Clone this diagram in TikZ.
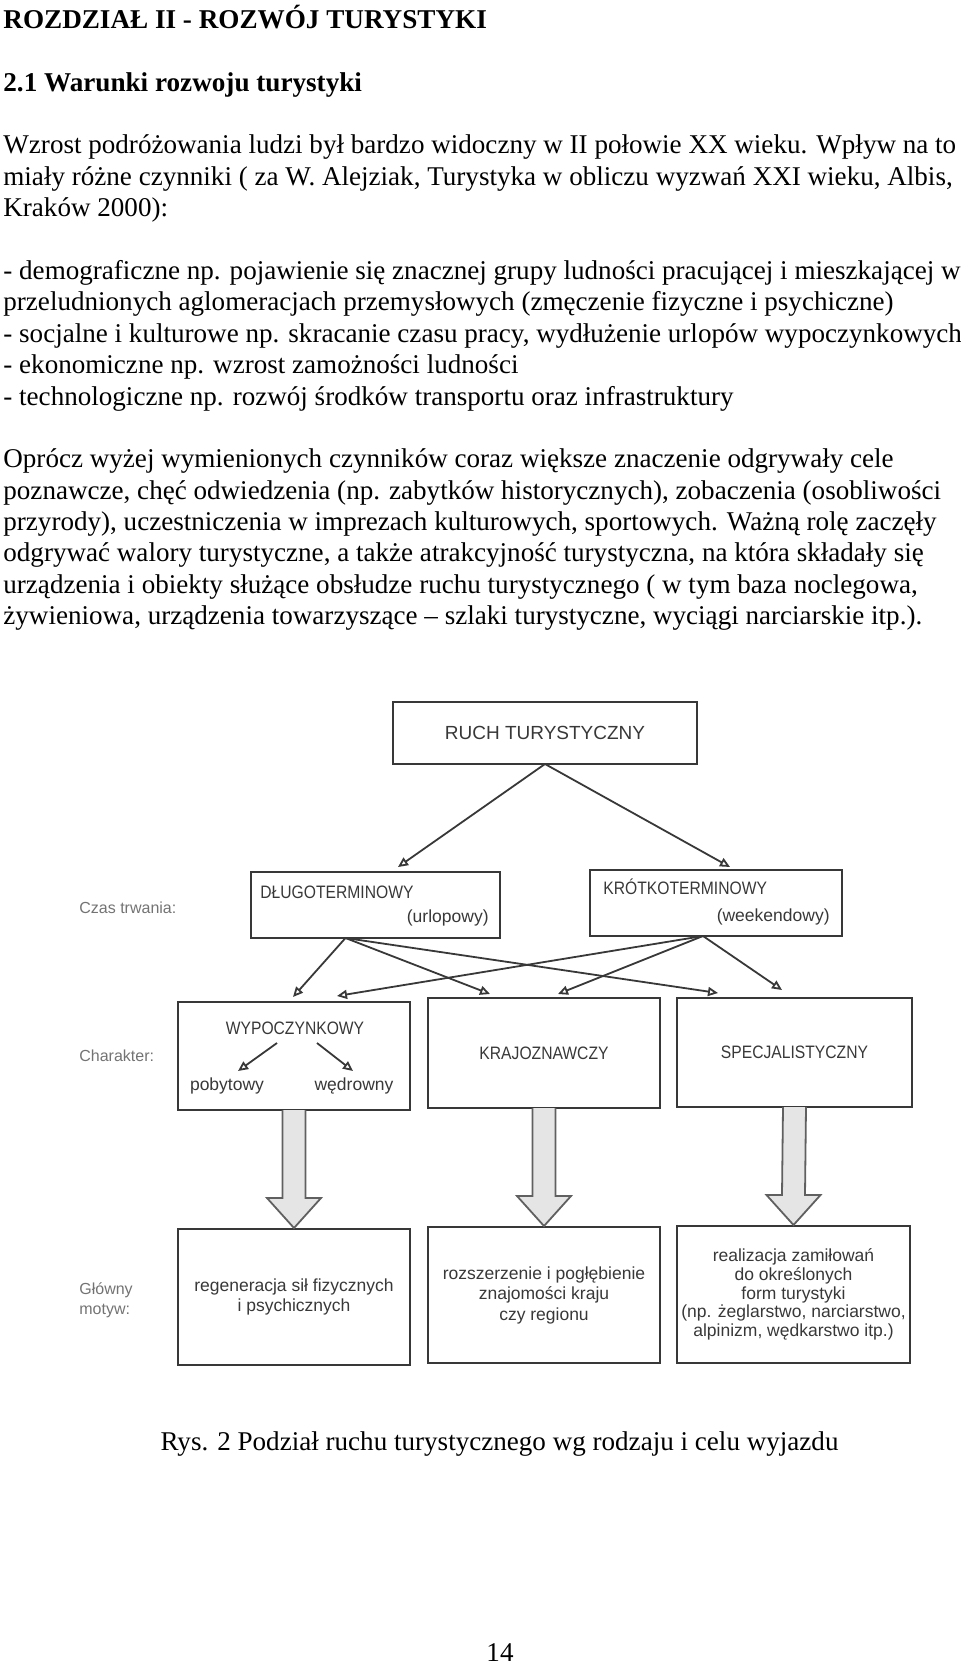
\documentclass[tikz,border=0pt]{standalone}
\usepackage{fontspec}
\setmainfont{Liberation Serif}
\newfontfamily\dsans{Liberation Sans}
\newfontfamily\dnarrow[FakeStretch=0.87]{Liberation Sans}
\usetikzlibrary{calc,arrows.meta}
\definecolor{ink}{gray}{0.22}
\definecolor{faint}{gray}{0.45}
\definecolor{shaftfill}{gray}{0.9}
\begin{document}
\begin{tikzpicture}[x=0.5pt,y=-0.5pt,
  body/.style={anchor=base west,inner sep=0pt,font=\fontsize{13.54}{15}\selectfont},
  headline/.style={anchor=base west,inner sep=0pt,font=\fontsize{13.58}{15}\selectfont\bfseries},
  box/.style={draw=ink,line width=1.2pt,inner sep=0pt,outer sep=0pt,text=ink},
  dtext/.style={inner sep=0pt,text=ink,font=\dnarrow\fontsize{9}{10}\selectfont},
  dsmall/.style={inner sep=0pt,text=ink,font=\dsans\fontsize{8.75}{9.75}\selectfont},
  lab/.style={inner sep=0pt,text=faint,font=\dsans\fontsize{8}{10}\selectfont},
  conn/.style={draw=ink,line width=0.9pt,-{Triangle[open,length=5pt,width=4.5pt]}},
  barrow/.style={draw=ink!80,fill=shaftfill,line width=0.9pt,line join=miter}
]
\useasboundingbox (0,0) rectangle (960,1664);

% ---------- text ----------
\node[headline] (title) at (3,28.5) {ROZDZIAŁ II - ROZWÓJ TURYSTYKI};
\node[headline] (sec) at (3,91.3) {2.1 Warunki rozwoju turystyki};
\node[body] (p1) at (3,154) {Wzrost podróżowania ludzi był bardzo widoczny w II połowie XX wieku. Wpływ na to};
\node[body] (p2) at (3,185.4) {miały różne czynniki ( za W. Alejziak, Turystyka w obliczu wyzwań XXI wieku, Albis,};
\node[body] (p3) at (3,216.7) {Kraków 2000):};
\node[body] (l1) at (3,279.5) {- demograficzne np. pojawienie się znacznej grupy ludności pracującej i mieszkającej w};
\node[body] (l2) at (3,310.9) {przeludnionych aglomeracjach przemysłowych (zmęczenie fizyczne i psychiczne)};
\node[body] (l3) at (3,342.2) {- socjalne i kulturowe np. skracanie czasu pracy, wydłużenie urlopów wypoczynkowych};
\node[body] (l4) at (3,373.6) {- ekonomiczne np. wzrost zamożności ludności};
\node[body] (l5) at (3,405) {- technologiczne np. rozwój środków transportu oraz infrastruktury};
\node[body] (q1) at (3,467.7) {Oprócz wyżej wymienionych czynników coraz większe znaczenie odgrywały cele};
\node[body] (q2) at (3,499.1) {poznawcze, chęć odwiedzenia (np. zabytków historycznych), zobaczenia (osobliwości};
\node[body] (q3) at (3,530.4) {przyrody), uczestniczenia w imprezach kulturowych, sportowych. Ważną rolę zaczęły};
\node[body] (q4) at (3,561.8) {odgrywać walory turystyczne, a także atrakcyjność turystyczna, na która składały się};
\node[body] (q5) at (3,593.2) {urządzenia i obiekty służące obsłudze ruchu turystycznego ( w tym baza noclegowa,};
\node[body] (q6) at (3,624.6) {żywieniowa, urządzenia towarzyszące – szlaki turystyczne, wyciągi narciarskie itp.).};

\node[body,anchor=base] (cap) at (499.5,1450) {Rys. 2 Podział ruchu turystycznego wg rodzaju i celu wyjazdu};
\node[body,anchor=base] (pg) at (500,1661) {14};

% ---------- diagram ----------
\node[box,minimum width=152pt,minimum height=31pt,font=\dsans\fontsize{9.5}{11}\selectfont] (ruch) at (545,733) {RUCH TURYSTYCZNY};

\node[box,minimum width=124.5pt,minimum height=33pt] (dl) at (375.5,905) {};
\node[dtext,anchor=base west] (dlt) at (260,898.5) {DŁUGOTERMINOWY};
\node[dsmall,anchor=base east] (dlu) at (489,922) {(urlopowy)};

\node[box,minimum width=126pt,minimum height=33pt] (kr) at (716,903) {};
\node[dtext,anchor=base west] (krt) at (603,894.5) {KRÓTKOTERMINOWY};
\node[dsmall,anchor=base east] (krw) at (830,921) {(weekendowy)};

\node[box,minimum width=116pt,minimum height=54pt] (wy) at (294,1056) {};
\node[dtext] (wyt) at (295,1028) {WYPOCZYNKOWY};
\node[dsmall,anchor=base] (pob) at (227,1090) {pobytowy};
\node[dsmall,anchor=base] (wed) at (354,1090) {wędrowny};

\node[box,minimum width=116pt,minimum height=55pt,font=\dnarrow\fontsize{9}{10}\selectfont] (kj) at (544,1053) {KRAJOZNAWCZY};
\node[box,minimum width=117.5pt,minimum height=54.5pt,font=\dnarrow\fontsize{9}{10}\selectfont] (sp) at (794.5,1052.5) {SPECJALISTYCZNY};

\node[box,minimum width=116pt,minimum height=68pt,align=center,font=\dsans\fontsize{8.75}{9.75}\selectfont] (rg) at (294,1297) {regeneracja sił fizycznych\\i psychicznych};
\node[box,minimum width=116pt,minimum height=68pt,align=center,font=\dsans\fontsize{8.75}{10.25}\selectfont] (rz) at (544,1295) {rozszerzenie i pogłębienie\\znajomości kraju\\czy regionu};
\node[box,minimum width=116.5pt,minimum height=68.5pt,align=center,font=\dsans\fontsize{8.75}{9.3}\selectfont] (rl) at (793.5,1294.5) {realizacja zamiłowań\\do określonych\\form turystyki\\(np. żeglarstwo, narciarstwo,\\alpinizm, wędkarstwo itp.)};

\node[lab,anchor=west] (czas) at (79,908) {Czas trwania:};
\node[lab,anchor=west] (char) at (79,1056) {Charakter:};
\node[lab,anchor=west,align=left] (mot) at (79,1300) {Główny\\motyw:};

% connectors
\coordinate (dls) at ($(dl.south)+(-30,0)$);
\coordinate (krs) at ($(kr.south)+(-13,0)$);
\draw[conn] (ruch.south) -- ($(dl.north)+(22.5,-5)$);
\draw[conn] (ruch.south) -- ($(kr.north)+(14,-3)$);
\draw[conn] (dls) -- ($(wy.north)+(-1,-5)$);
\draw[conn] (dls) -- ($(kj.north)+(-54,-4)$);
\draw[conn] (dls) -- ($(sp.north)+(-76.5,-5)$);
\draw[conn] (krs) -- ($(wy.north)+(43,-6)$);
\draw[conn] (krs) -- ($(kj.north)+(14,-4)$);
\draw[conn] (krs) -- ($(sp.north)+(-12.5,-8)$);
\draw[conn] ($(wy.center)+(-17,-13)$) -- ($(wy.center)+(-56,15)$);
\draw[conn] ($(wy.center)+(23,-13)$) -- ($(wy.center)+(59,15)$);

% block arrows
\foreach \a/\b in {wy/rg,kj/rz,sp/rl}{
  \filldraw[barrow] ($(\a.south)+(-11.5,0)$) -- ($(\b.north)+(-11.5,-31)$) -- ($(\b.north)+(-27,-31)$)
    -- ($(\b.north)+(0,-1)$) -- ($(\b.north)+(27,-31)$) -- ($(\b.north)+(11.5,-31)$) -- ($(\a.south)+(11.5,0)$);
}
\end{tikzpicture}
\end{document}
